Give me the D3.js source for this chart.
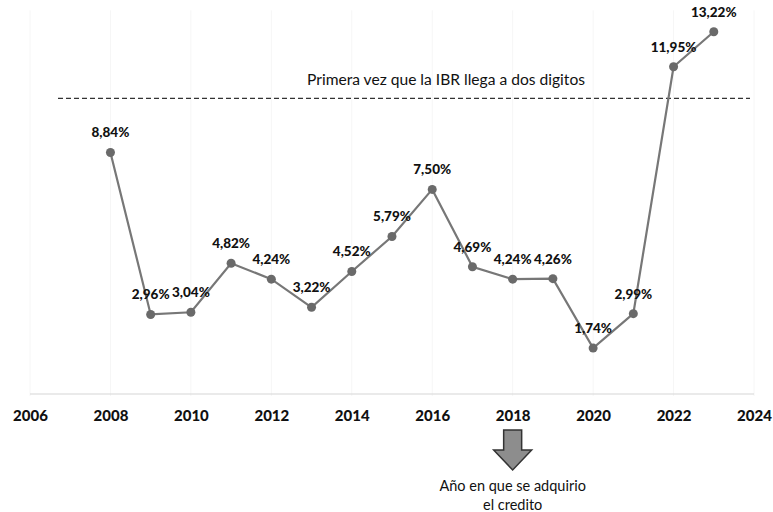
<!DOCTYPE html>
<html>
<head>
<meta charset="utf-8">
<script src="https://cdn.jsdelivr.net/npm/d3@7"></script>
<style>
  html, body { margin: 0; padding: 0; background: #fff; }
  svg { display: block; font-family: Lato, "Open Sans", sans-serif; }
</style>
</head>
<body>
<svg id="chart" width="773" height="512"></svg>
<script>
// Data
const years = [2008, 2009, 2010, 2011, 2012, 2013, 2014, 2015, 2016, 2017, 2018, 2019, 2020, 2021, 2022, 2023];
const ibr = [8.84, 2.96, 3.04, 4.82, 4.24, 3.22, 4.52, 5.79, 7.50, 4.69, 4.24, 4.26, 1.74, 2.99, 11.95, 13.22];
const tickYears = [2006, 2008, 2010, 2012, 2014, 2016, 2018, 2020, 2022, 2024];
const threshold = 10.8;
const thresholdLabel = "Primera vez que la IBR llega a dos digitos";
const arrowYear = 2018;
const arrowLabel = ["Año en que se adquirio", "el credito"];

const svg = d3.select("#chart");

// Scales
const x = d3.scaleLinear().domain([2006, 2024]).range([30, 754]);
const y = d3.scaleLinear().domain([0, 14]).range([396, 10.3]);

const fmt = v => d3.format(".2f")(v).replace(".", ",") + "%";

// faint vertical grid
svg.append("g")
  .selectAll("line")
  .data(tickYears)
  .join("line")
  .attr("x1", d => x(d)).attr("x2", d => x(d))
  .attr("y1", y(14)).attr("y2", y(0))
  .attr("stroke", "#f6f6f6")
  .attr("stroke-width", 1);

// baseline
svg.append("line")
  .attr("x1", x(2006)).attr("x2", x(2024))
  .attr("y1", y(0) - 2).attr("y2", y(0) - 2)
  .attr("stroke", "#d6d6d6")
  .attr("stroke-width", 1.2);

// x axis labels
const xAxis = svg.append("g")
  .attr("transform", `translate(0, ${y(0) + 11})`)
  .call(d3.axisBottom(x).tickValues(tickYears).tickFormat(d3.format("d")).tickSize(0));
xAxis.select(".domain").remove();
xAxis.selectAll("text")
  .attr("font-family", "Lato, sans-serif")
  .attr("font-size", 15)
  .attr("font-weight", 900)
  .attr("fill", "#111");

// threshold dashed line + label
svg.append("line")
  .attr("x1", 58).attr("x2", 750)
  .attr("y1", y(threshold)).attr("y2", y(threshold))
  .attr("stroke", "#333")
  .attr("stroke-width", 1.3)
  .attr("stroke-dasharray", "5,3");

svg.append("text")
  .attr("x", 446)
  .attr("y", y(threshold) - 13)
  .attr("text-anchor", "middle")
  .attr("font-size", 15.6)
  .attr("fill", "#111")
  .text(thresholdLabel);

// series
const series = years.map((yr, i) => ({ year: yr, value: ibr[i] }));

svg.append("path")
  .datum(series)
  .attr("fill", "none")
  .attr("stroke", "#777")
  .attr("stroke-width", 2.2)
  .attr("d", d3.line().x(d => x(d.year)).y(d => y(d.value)));

svg.append("g")
  .selectAll("circle")
  .data(series)
  .join("circle")
  .attr("cx", d => x(d.year))
  .attr("cy", d => y(d.value))
  .attr("r", 4.5)
  .attr("fill", "#6a6a6a");

// data labels
svg.append("g")
  .selectAll("text")
  .data(series)
  .join("text")
  .attr("x", d => x(d.year))
  .attr("y", d => y(d.value) - 15)
  .attr("text-anchor", "middle")
  .attr("font-size", 13.5)
  .attr("font-weight", 900)
  .attr("fill", "#111")
  .text(d => fmt(d.value));

// arrow pointing down under the credit year
const ax = x(arrowYear);
const arrowPath = [
  [ax - 9, 430], [ax + 9, 430], [ax + 9, 450], [ax + 19, 450],
  [ax, 470], [ax - 19, 450], [ax - 9, 450]
];
svg.append("path")
  .attr("d", d3.line()(arrowPath) + "Z")
  .attr("fill", "#8d8d8d")
  .attr("stroke", "#333")
  .attr("stroke-width", 1.5);

svg.append("g")
  .selectAll("text")
  .data(arrowLabel)
  .join("text")
  .attr("x", ax)
  .attr("y", (d, i) => 491 + i * 19)
  .attr("text-anchor", "middle")
  .attr("font-size", 14.5)
  .attr("fill", "#111")
  .text(d => d);
</script>
</body>
</html>
